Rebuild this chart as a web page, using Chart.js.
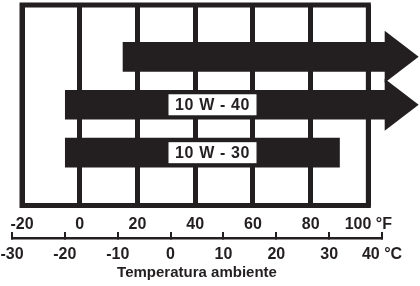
<!DOCTYPE html>
<html>
<head>
<meta charset="utf-8">
<script src="https://cdn.jsdelivr.net/npm/chart.js@4/dist/chart.umd.min.js"></script>
<style>
  html, body { margin: 0; padding: 0; background: #fff; }
</style>
</head>
<body>
<canvas id="chart" width="420" height="286"></canvas>
<script>
// oil grades, one row each (top row has no label in the source)
const rows = [1, 2, 3];
const grades = ["", "10 W - 40", "10 W - 30"];
const fromF = [15, -5, -5];
const toF = [106, 106, 90];
const openEnded = [true, true, false];

// axis ticks
const fTicks = [-20, 0, 20, 40, 60, 80, 100];
const cTicks = [-30, -20, -10, 0, 10, 20, 30, 40];
const fUnit = "°F";
const cUnit = "°C";
const axisTitle = "Temperatura ambiente";

const ink = "#231f20";
const family = '"Liberation Sans", Arial, sans-serif';
const labelAtF = 46;

const tickLabel = (unit) => (value, i, ticks) =>
  i === ticks.length - 1 ? value + " " + unit : String(value);

const noSidePadding = (s) => {
  s.paddingLeft = 0;
  s.paddingRight = 0;
};

const overlay = {
  id: "overlay",
  beforeDatasetsDraw(chart) {
    const { ctx, chartArea, scales } = chart;
    const x1 = scales.f.getPixelForValue(fTicks[0]);
    const x2 = scales.f.getPixelForValue(fTicks[fTicks.length - 1]);
    ctx.save();
    ctx.strokeStyle = ink;
    ctx.lineWidth = 5;
    ctx.strokeRect(x1, chartArea.top, x2 - x1, chartArea.bottom - chartArea.top);
    ctx.restore();
  },
  afterDatasetsDraw(chart) {
    const { ctx, scales } = chart;
    const bars = chart.getDatasetMeta(0).data;
    ctx.save();
    bars.forEach((bar, i) => {
      if (openEnded[i]) {
        ctx.fillStyle = ink;
        ctx.beginPath();
        ctx.moveTo(bar.x - 1, bar.y - 26);
        ctx.lineTo(bar.x + 33, bar.y);
        ctx.lineTo(bar.x - 1, bar.y + 26);
        ctx.closePath();
        ctx.fill();
      }
      if (grades[i]) {
        const cx = scales.f.getPixelForValue(labelAtF);
        ctx.fillStyle = "#fff";
        ctx.fillRect(cx - 44, bar.y - 10.5, 88, 21);
        ctx.fillStyle = ink;
        ctx.font = "bold 16px " + family;
        ctx.letterSpacing = "0.6px";
        ctx.textAlign = "center";
        ctx.textBaseline = "middle";
        ctx.fillText(grades[i], cx, bar.y + 1);
      }
    });
    ctx.restore();
  },
};

new Chart(document.getElementById("chart"), {
  type: "bar",
  data: {
    datasets: [
      {
        data: rows.map((r, i) => ({ y: r, x: [fromF[i], toF[i]] })),
        xAxisID: "f",
        yAxisID: "y",
        backgroundColor: ink,
        borderWidth: 0,
        barThickness: 29,
        clip: false,
      },
    ],
  },
  options: {
    responsive: false,
    animation: false,
    indexAxis: "y",
    layout: { padding: { left: 12, right: 38, top: 5, bottom: 0 } },
    plugins: { legend: { display: false }, tooltip: { enabled: false } },
    scales: {
      y: {
        type: "linear",
        reverse: true,
        min: 0.15,
        max: 3.87,
        display: false,
      },
      f: {
        type: "linear",
        axis: "x",
        position: "bottom",
        weight: 0,
        min: -23.47,
        max: 104.73,
        afterBuildTicks: (s) => {
          s.ticks = fTicks.map((v) => ({ value: v }));
        },
        afterFit: (s) => {
          noSidePadding(s);
          s.height = 32.5;
        },
        grid: { color: ink, lineWidth: 5, drawTicks: false },
        border: { display: false },
        ticks: {
          color: ink,
          padding: 9,
          font: { family: family, size: 16, weight: "bold" },
          callback: tickLabel(fUnit),
        },
      },
      c: {
        type: "linear",
        axis: "x",
        position: "bottom",
        weight: 1,
        min: cTicks[0],
        max: cTicks[cTicks.length - 1],
        afterBuildTicks: (s) => {
          s.ticks = cTicks.map((v) => ({ value: v }));
        },
        afterFit: (s) => {
          noSidePadding(s);
          s.height = 48;
        },
        grid: {
          drawOnChartArea: false,
          drawTicks: true,
          tickLength: -6,
          color: ink,
          lineWidth: 2,
        },
        border: { display: true, color: ink, width: 2.5 },
        ticks: {
          color: ink,
          padding: 13,
          font: { family: family, size: 16, weight: "bold" },
          callback: tickLabel(cUnit),
        },
        title: {
          display: true,
          text: axisTitle,
          color: ink,
          padding: { top: 0, bottom: 4 },
          font: { family: family, size: 15, weight: "bold" },
        },
      },
    },
  },
  plugins: [overlay],
});
</script>
</body>
</html>
